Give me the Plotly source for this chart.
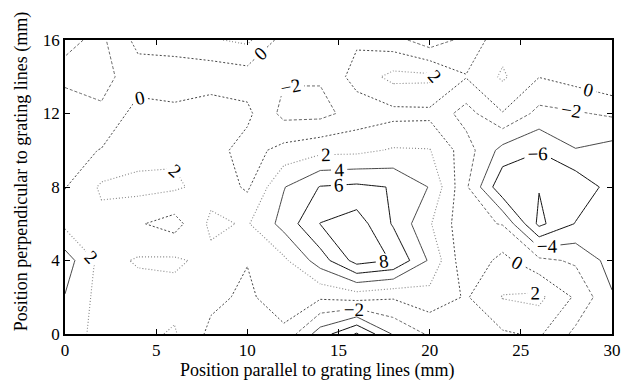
import plotly.graph_objects as go

# Grid coordinates (mm)
x_mm = [0, 2, 4, 6, 8, 10, 12, 14, 16, 18, 20, 22, 24, 26, 28, 30]
y_mm = [0, 2, 4, 6, 8, 10, 12, 14, 16]

# Measured field, one row per y position (y ascending), values along x
z_y0 = [2.6, 1.6, 1.5, 2.2, -0.5, -0.8, -0.5, -5.0, -8.2, -3.8, -1.7, -1.2, -0.25, 0.3, -2.5, -3.0]
z_y2 = [3.9, 1.2, 1.2, 1.4, 0.5, -0.4, 1.2, 0.3, 0.8, 0.2, 1.2, -0.2, 2.1, 2.5, -0.3, -3.8]
z_y4 = [5.0, 1.3, 2.2, 2.3, 1.5, 0.08, 1.6, 5.0, 8.8, 7.9, 3.7, -1.5, 0.6, -1.5, -2.3, -4.8]
z_y6 = [1.5, 1.45, 0.2, -0.8, 2.4, 1.8, 4.7, 8.05, 9.0, 5.8, 2.2, -1.47, -2.1, -8.5, -5.9, -5.0]
z_y8 = [-0.1, 2.3, 2.6, 2.3, 1.3, -0.3, 3.9, 6.1, 6.4, 5.9, 3.9, -1.7, -7.6, -7.9, -7.5, -5.2]
z_y10 = [-0.8, 0.1, 1.2, 1.7, 0.8, -0.8, 0.65, 1.43, 1.5, 2.2, 2.1, -1.1, -4.7, -5.9, -4.1, -4.8]
z_y12 = [-0.8, -1.7, 0.8, 0.7, 1.5, 0.45, -2.6, -2.6, -1.2, -0.6, -0.5, -2.8, -0.1, -2.6, -2.2, -1.7]
z_y14 = [-2.5, -2.6, -1.0, -1.6, -1.4, -1.0, -1.8, -1.8, 0.8, 2.6, 2.5, 0.1, 2.3, 0.05, 0.8, 1.8]
z_y16 = [-1.6, -2.4, 0.6, 1.3, 1.8, 2.4, -0.8, -1.5, -0.3, -1.2, -3.2, -1.35, 1.2, 1.8, 1.8, 2.0]

z_rows = [z_y0, z_y2, z_y4, z_y6, z_y8, z_y10, z_y12, z_y14, z_y16]

levels = [-8, -6, -4, -2, 0, 2, 4, 6, 8]
x_ticks = [0, 5, 10, 15, 20, 25, 30]
y_ticks = [0, 4, 8, 12, 16]
x_title = "Position parallel to grating lines (mm)"
y_title = "Position perpendicular to grating lines (mm)"

# line style per level
style = {
    -8: ("#111111", "solid", 1.0),
    -6: ("#111111", "solid", 1.0),
    -4: ("#333333", "solid", 0.9),
    -2: ("#555555", "3px,2px", 0.9),
    0: ("#444444", "2px,2px", 1.0),
    2: ("#888888", "1px,2px", 1.1),
    4: ("#333333", "solid", 0.9),
    6: ("#111111", "solid", 1.0),
    8: ("#111111", "solid", 1.0),
}

fig = go.Figure()
for lv in levels:
    col, dash, w = style[lv]
    fig.add_trace(go.Contour(
        x=x_mm, y=y_mm, z=z_rows,
        autocontour=False,
        contours=dict(start=lv, end=lv, size=2, coloring="none",
                      showlabels=True,
                      labelfont=dict(family="Liberation Serif", size=19, color="black")),
        line=dict(color=col, dash=dash, width=w, smoothing=0),
        showscale=False, hoverinfo="skip",
    ))

axis_common = dict(showline=True, linecolor="black", linewidth=1.5, mirror="ticks",
                   ticks="inside", ticklen=5, tickwidth=1, tickcolor="black",
                   showgrid=False, zeroline=False,
                   tickfont=dict(family="Liberation Serif", size=17, color="black"))

fig.update_layout(
    width=625, height=375,
    margin=dict(l=57, r=21, t=32, b=49),
    paper_bgcolor="white", plot_bgcolor="white",
    showlegend=False,
    font=dict(family="Liberation Serif", size=18, color="black"),
    xaxis=dict(range=[0, 30], tickvals=x_ticks, ticktext=[str(v) for v in x_ticks],
               **axis_common),
    yaxis=dict(range=[0, 16], tickvals=y_ticks, ticktext=[str(v) for v in y_ticks],
               **axis_common),
    annotations=[
        dict(text=x_title, xref="paper", yref="paper", x=0.461, y=-0.163,
             xanchor="center", yanchor="bottom", showarrow=False, borderpad=0,
             font=dict(family="Liberation Serif", size=18, color="black")),
        dict(text=y_title, xref="paper", yref="paper", x=-0.08, y=0.551,
             xanchor="center", yanchor="middle", showarrow=False, textangle=-90,
             borderpad=0,
             font=dict(family="Liberation Serif", size=18, color="black")),
    ],
)

fig.write_html("out.html")
